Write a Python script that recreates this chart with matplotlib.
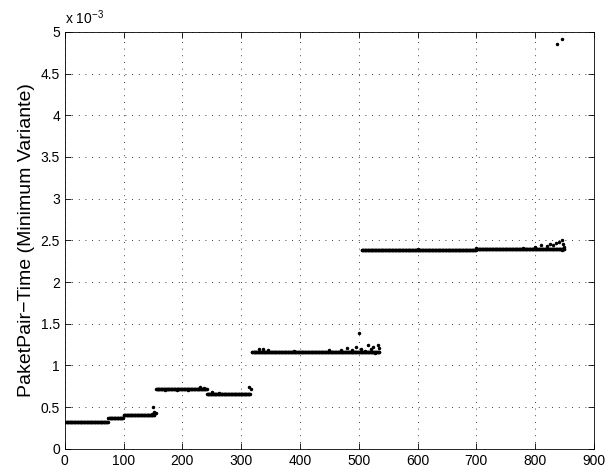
import numpy as np
import matplotlib
matplotlib.use("Agg")
import matplotlib.pyplot as plt

plt.rcParams['font.family'] = ['Liberation Sans', 'DejaVu Sans']
plt.rcParams['mathtext.fontset'] = 'custom'
plt.rcParams['mathtext.rm'] = 'Liberation Sans'
plt.rcParams['mathtext.it'] = 'Liberation Sans'

# flat runs of measurements (x = packet index, y in units of 1e-3)
run_start = [1, 74, 100, 155, 242, 318, 420, 505, 700]
run_end = [73, 99, 152, 241, 315, 419, 535, 699, 850]
run_level = [0.325, 0.375, 0.405, 0.72, 0.66, 1.16, 1.165, 2.39, 2.40]

# scattered points
extra_x = [150, 152, 148, 155,
           170, 190, 210, 230, 236, 250, 262, 300, 313, 316,
           330, 337, 345, 390, 450, 470, 480, 488, 495, 500, 503, 510,
           515, 520, 525, 528, 532, 535,
           600, 700, 780, 800, 810, 820, 825, 830, 835, 840, 845, 848,
           850, 846,
           838, 846]
extra_y = [0.50, 0.44, 0.42, 0.43,
           0.70, 0.71, 0.70, 0.74, 0.73, 0.68, 0.67, 0.66, 0.74, 0.72,
           1.20, 1.20, 1.18, 1.17, 1.18, 1.19, 1.21, 1.18, 1.22, 1.39, 1.20, 1.17,
           1.25, 1.20, 1.22, 1.15, 1.24, 1.21,
           2.40, 2.41, 2.41, 2.42, 2.44, 2.43, 2.46, 2.45, 2.47, 2.48, 2.50, 2.46,
           2.42, 2.39,
           4.86, 4.92]

xs, ys = [], []
for s, e, lv in zip(run_start, run_end, run_level):
    xx = np.arange(s, e + 1)
    xs.append(xx)
    ys.append(np.full(len(xx), lv))
xs.append(np.array(extra_x))
ys.append(np.array(extra_y))
x = np.concatenate(xs)
y = np.concatenate(ys)

fig = plt.figure(figsize=(6.06, 4.69), dpi=100)
ax = fig.add_axes([0.107, 0.043, 0.873, 0.889])
ax.plot(x, y, '.', color='black', markersize=3)

ax.set_xlim(0, 900)
ax.set_ylim(0, 5)
ax.set_xticks(np.arange(0, 901, 100))
ax.set_yticks(np.arange(0, 5.01, 0.5))
ax.set_yticklabels(['0', '0.5', '1', '1.5', '2', '2.5', '3', '3.5', '4', '4.5', '5'])
ax.tick_params(direction='in', top=True, right=True, labelsize=10, length=4, width=0.6)
ax.grid(True, linestyle=(0, (1, 7)), color='black', linewidth=0.6)
for sp in ax.spines.values():
    sp.set_linewidth(0.6)

ax.set_ylabel("PaketPair\u2212Time (Minimum Variante)", fontsize=14)
ax.text(0.0, 1.012, r'x 10$^{-3}$', transform=ax.transAxes, fontsize=10,
        ha='left', va='bottom')

fig.savefig("out.png", dpi=100)
